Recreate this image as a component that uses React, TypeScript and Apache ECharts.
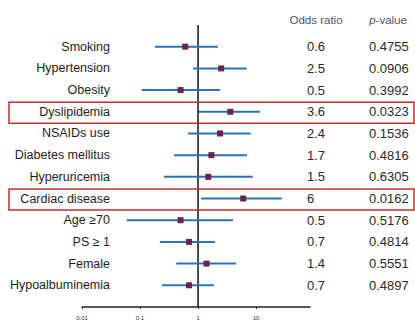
import React, { useEffect, useRef } from 'react';
import * as echarts from 'echarts';

const factors = [
  'Smoking',
  'Hypertension',
  'Obesity',
  'Dyslipidemia',
  'NSAIDs use',
  'Diabetes mellitus',
  'Hyperuricemia',
  'Cardiac disease',
  'Age ≥70',
  'PS ≥ 1',
  'Female',
  'Hypoalbuminemia',
];
const oddsRatios = [0.6, 2.5, 0.5, 3.6, 2.4, 1.7, 1.5, 6, 0.5, 0.7, 1.4, 0.7];
const oddsRatioLabels = ['0.6', '2.5', '0.5', '3.6', '2.4', '1.7', '1.5', '6', '0.5', '0.7', '1.4', '0.7'];
const pValues = ['0.4755', '0.0906', '0.3992', '0.0323', '0.1536', '0.4816', '0.6305', '0.0162', '0.5176', '0.4814', '0.5551', '0.4897'];
const ciLower = [0.18, 0.82, 0.107, 1.03, 0.67, 0.385, 0.26, 1.13, 0.059, 0.22, 0.42, 0.24];
const ciUpper = [2.2, 6.9, 2.4, 11.7, 8.1, 7.0, 8.8, 27.7, 4.0, 1.96, 4.5, 1.89];
const highlighted = ['Dyslipidemia', 'Cardiac disease'];
const xTickLabels: Record<string, string> = { '0.01': '0.01', '0.1': '0.1', '1': '1', '10': '10' };

const FONT = '"Liberation Sans", Arial, sans-serif';

export default function App() {
  const ref = useRef<HTMLDivElement>(null);

  useEffect(() => {
    if (!ref.current) return;
    const chart = echarts.init(ref.current, undefined, { renderer: 'svg' });

    const rows = factors.map((_, i) => [oddsRatios[i], i, ciLower[i], ciUpper[i]]);

    const baseY = {
      type: 'value' as const,
      min: -1,
      max: 12,
      interval: 1,
      inverse: true,
      splitLine: { show: false },
      axisLine: { show: false },
      axisTick: { show: false },
    };

    chart.setOption({
      animation: false,
      backgroundColor: '#ffffff',
      grid: { left: 82, right: 105, top: 25, bottom: 18 },
      xAxis: {
        type: 'log',
        logBase: 10,
        min: 0.01,
        max: 85,
        position: 'bottom',
        splitLine: { show: false },
        axisLine: { onZero: false, lineStyle: { color: '#222', width: 1.5 } },
        axisTick: { show: true, length: 2, lineStyle: { color: '#222' } },
        axisLabel: {
          fontSize: 6,
          color: '#333',
          fontFamily: FONT,
          margin: 8,
          showMaxLabel: false,
          formatter: (v: number) => {
            const k = String(+v.toPrecision(3));
            return xTickLabels[k] ?? '';
          },
        },
      },
      yAxis: [
        {
          ...baseY,
          position: 'left',
          axisLabel: {
            margin: -28,
            fontSize: 12.5,
            color: '#1e1e1e',
            fontFamily: FONT,
            formatter: (v: number) => factors[v] ?? '',
          },
        },
        {
          ...baseY,
          position: 'right',
          axisLabel: {
            margin: -3,
            fontSize: 13,
            color: '#2a2a2a',
            fontFamily: FONT,
            align: 'left',
            formatter: (v: number) => oddsRatioLabels[v] ?? '',
          },
        },
        {
          ...baseY,
          position: 'right',
          offset: 59,
          axisLabel: {
            margin: 0,
            fontSize: 13,
            color: '#2a2a2a',
            fontFamily: FONT,
            align: 'left',
            formatter: (v: number) => pValues[v] ?? '',
          },
        },
      ],
      series: [
        {
          type: 'line',
          data: [
            [1, -1],
            [1, 12],
          ],
          symbol: 'none',
          lineStyle: { color: '#111', width: 1.5 },
          silent: true,
          z: 1,
        },
        {
          type: 'custom',
          encode: { x: 0, y: 1 },
          data: rows,
          z: 3,
          renderItem: (_params: any, api: any) => {
            const y = api.value(1);
            const lo = api.coord([api.value(2), y]);
            const hi = api.coord([api.value(3), y]);
            const pt = api.coord([api.value(0), y]);
            return {
              type: 'group',
              children: [
                {
                  type: 'line',
                  shape: { x1: lo[0], y1: lo[1], x2: hi[0], y2: hi[1] },
                  style: { stroke: '#2f72b8', lineWidth: 2 },
                },
                {
                  type: 'rect',
                  shape: { x: pt[0] - 3, y: pt[1] - 3, width: 6, height: 6 },
                  style: { fill: '#6b2346' },
                },
              ],
            };
          },
        },
      ],
    });

    const boxes = highlighted.map((name) => {
      const idx = factors.indexOf(name);
      const p = chart.convertToPixel({ gridIndex: 0 }, [1, idx]) as number[];
      return {
        type: 'rect',
        shape: { x: 9, y: p[1] - 9.5, width: 405, height: 21 },
        style: { fill: 'none', stroke: '#c0302c', lineWidth: 1.5 },
        z: 10,
      };
    });

    chart.setOption({
      graphic: [
        ...boxes,
        {
          type: 'text',
          x: 316,
          y: 20,
          style: {
            text: 'Odds ratio',
            fontSize: 11.5,
            fontFamily: FONT,
            fill: '#4a5672',
            align: 'center',
            verticalAlign: 'middle',
          },
        },
        {
          type: 'text',
          x: 388,
          y: 20,
          style: {
            text: '{i|p}-value',
            fontSize: 11.5,
            fontFamily: FONT,
            fill: '#4a5672',
            align: 'center',
            verticalAlign: 'middle',
            rich: {
              i: { fontStyle: 'italic', fontSize: 11.5, fontFamily: FONT, fill: '#4a5672' },
            },
          },
        },
      ],
    });

    return () => chart.dispose();
  }, []);

  return <div ref={ref} style={{ width: 415, height: 325, position: 'absolute', left: 0, top: 0 }} />;
}
